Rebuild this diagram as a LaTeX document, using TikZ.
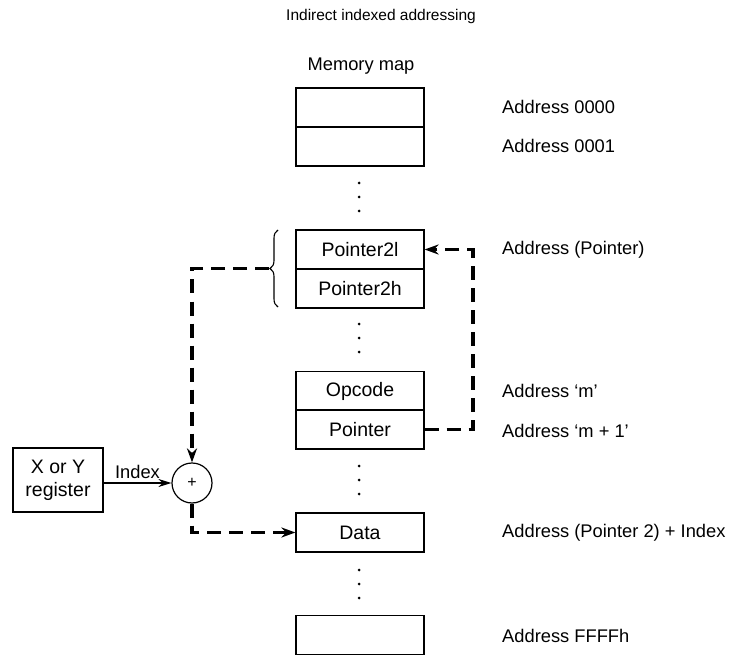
\documentclass[tikz,border=0pt]{standalone}
\usepackage{fontspec}
\setmainfont{Liberation Sans}
\usetikzlibrary{arrows.meta,decorations.pathreplacing}
\begin{document}
\begin{tikzpicture}[x=1pt,y=-1pt,
  every node/.style={font=\fontsize{18.3}{21}\selectfont},
  boxtext/.style={font=\fontsize{19.5}{23}\selectfont},
  cell/.style={draw,line width=1.2pt,minimum width=128pt,minimum height=39pt,inner sep=0pt,boxtext},
  regbox/.style={draw,line width=1.2pt,minimum width=90pt,minimum height=64pt,inner sep=0pt,align=center,boxtext},
  sumnode/.style={draw,circle,line width=1.2pt,minimum size=40pt,inner sep=0pt},
  addr/.style={anchor=west,inner sep=0pt},
  dot/.style={circle,fill,inner sep=0pt,minimum size=3pt},
  flow/.style={line width=3.8pt,dash pattern=on 14pt off 8pt,-{Stealth[length=14pt,width=10pt]}},
  thin/.style={line width=1.2pt,-{Stealth[length=13pt,width=8pt]}}]
\useasboundingbox (0,0) rectangle (742,655);

% headings
\node[font=\fontsize{15.5}{18}\selectfont] (title) at (381,16) {Indirect indexed addressing};
\node (mmap) at (361,66) {Memory map};

% memory cells
\node[cell] (c0)   at (360,107.5) {};
\node[cell] (c1)   at (360,146.5) {};
\node[cell] (p2l)  at (360,249.5) {Pointer2l};
\node[cell] (p2h)  at (360,288.5) {Pointer2h};
\node[cell] (opc)  at (360,391)   {Opcode};
\node[cell] (ptr)  at (360,429.5) {Pointer};
\node[cell] (data) at (360,532.5) {Data};
\node[cell] (cend) at (360,635)   {};

% ellipsis dots between cells
\foreach \y [count=\i] in {183,197,211, 324,338,352, 466,480,494, 570,584,598}
  \node[dot] (d\i) at (359,\y) {};

% address labels
\node[addr] (a0) at (502,107) {Address 0000};
\node[addr] (a1) at (502,146) {Address 0001};
\node[addr] (a2) at (502,250) {Address (Pointer)};
\node[addr] (a3) at (502,391) {Address ‘m’};
\node[addr] (a4) at (502,431) {Address ‘m + 1’};
\node[addr] (a5) at (502,533) {Address (Pointer 2) + Index};
\node[addr] (a6) at (502,636) {Address FFFFh};

% index register and adder
\node[regbox] (reg) at (58,480) {X or Y\\register};
\node[sumnode] (sum) at (192,483) {\fontsize{16}{16}\selectfont +};
\draw[thin] (reg.east |- sum.west) -- node[above=4pt,inner sep=0pt] (idx) {Index} (sum.west);

% brace grouping the two pointer bytes
\draw[line width=1.1pt,decorate,decoration={brace,amplitude=8pt}]
  (278,307) -- (278,230) coordinate[midway,xshift=-9pt] (btip);

% pointer bytes feed the adder
\draw[flow] (btip) -| (sum.north);
% adder output selects the data cell
\draw[flow] (sum.south) |- (data.west);
% the operand points back to the pointer bytes
\coordinate (rbend) at (473,429.5);
\draw[flow] (ptr.east) -- (rbend) |- (p2l.east);
\end{tikzpicture}
\end{document}
